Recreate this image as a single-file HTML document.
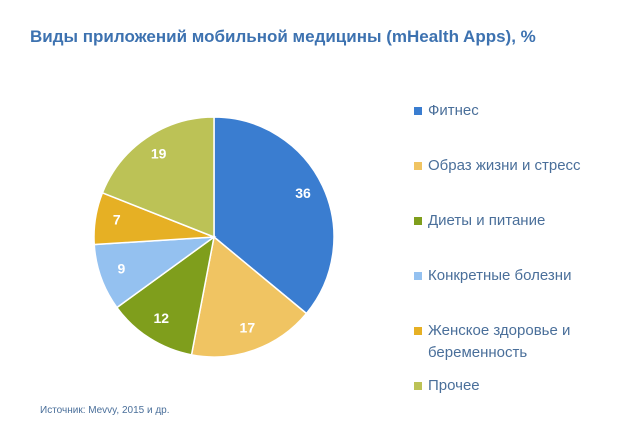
<!DOCTYPE html>
<html><head><meta charset="utf-8"><style>
body{margin:0;background:#fff;width:640px;height:426px;overflow:hidden;font-family:"Liberation Sans","DejaVu Sans",sans-serif;}
#title{position:absolute;left:30px;top:27px;font-size:17px;font-weight:bold;color:#3d72b0;}
#src{position:absolute;left:40px;top:405px;font-size:10px;color:#4a6f9a;}
.leg{position:absolute;left:414px;font-size:15px;color:#4a6f9a;line-height:22px;}
.leg span.sw{position:absolute;left:0;top:7px;width:8px;height:8px;}
.leg span.t{display:block;padding-left:14px;}
</style></head><body>
<div id="title">Виды приложений мобильной медицины (mHealth Apps), %</div>
<svg id="pie" width="640" height="426" style="position:absolute;left:0;top:0"></svg>
<div id="legend"></div>
<div id="src">Источник: Mevvy, 2015 и др.</div>
<script>
const categories=["Фитнес","Образ жизни и стресс","Диеты и питание","Конкретные болезни","Женское здоровье и беременность","Прочее"];
const values=[36,17,12,9,7,19];
const colors=["#3a7dd0","#f0c462","#7f9e1c","#94c1f0","#e6b024","#bcc256"];
const legendTops=[100,155,210,265,320,375];
const legendLabels=["Фитнес","Образ жизни и стресс","Диеты и питание","Конкретные болезни","Женское здоровье и<br>беременность","Прочее"];
const svg=document.getElementById('pie');
const cx=214,cy=237,R=120,NS="http://www.w3.org/2000/svg";
const total=values.reduce((a,b)=>a+b,0);
let a0=0;
values.forEach((v,i)=>{
  const a1=a0+v/total*2*Math.PI;
  const p=(a)=>[cx+R*Math.sin(a),cy-R*Math.cos(a)];
  const [x0,y0]=p(a0),[x1,y1]=p(a1);
  const path=document.createElementNS(NS,'path');
  path.setAttribute('d',`M${cx},${cy}L${x0},${y0}A${R},${R} 0 ${a1-a0>Math.PI?1:0} 1 ${x1},${y1}Z`);
  path.setAttribute('fill',colors[i]);path.setAttribute('stroke','#fff');path.setAttribute('stroke-width','1.5');
  
  
  svg.appendChild(path);
  const am=(a0+a1)/2,lr=R*0.82;
  const t=document.createElementNS(NS,'text');
  t.setAttribute('x',cx+lr*Math.sin(am));t.setAttribute('y',cy-lr*Math.cos(am)+3);
  t.setAttribute('text-anchor','middle');t.setAttribute('fill','#fff');t.setAttribute('font-size','14');t.setAttribute('font-weight','bold');
  t.setAttribute('font-family','Liberation Sans, sans-serif');
  
  
  t.textContent=v;svg.appendChild(t);
  a0=a1;
});
const lg=document.getElementById('legend');
categories.forEach((c,i)=>{
  const d=document.createElement('div');d.className='leg';d.style.top=legendTops[i]+'px';
  
  
  d.innerHTML=`<span class="sw" style="background:${colors[i]}"></span><span class="t">${legendLabels[i]}</span>`;
  lg.appendChild(d);
});
</script>
</body></html>
